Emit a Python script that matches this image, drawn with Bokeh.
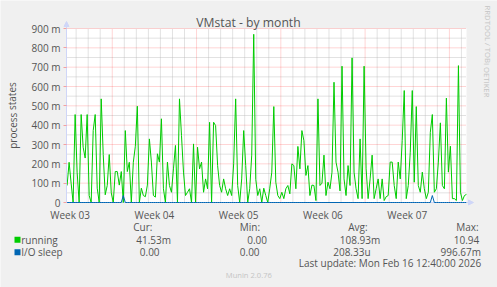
from bokeh.plotting import figure
from bokeh.models import FixedTicker, Label, Arrow, NormalHead, BoxAnnotation, Range1d, ColumnDataSource
from bokeh.embed import file_html
from bokeh.resources import INLINE

# ---------------- data ----------------
title = "VMstat - by month"
y_label = "process states"
watermark = "RRDTOOL / TOBI OETIKER"
week_labels = ["Week 03", "Week 04", "Week 05", "Week 06", "Week 07"]
week_label_hours = [84, 252, 420, 588, 756]          # mid-week (hours since Week 03 start)
week_bound_hours = [168, 336, 504, 672, 840]
day_hours = [96, 120, 144, 192, 216, 240, 264, 288, 312, 360, 384, 408, 432, 456, 480,
             528, 552, 576, 600, 624, 648, 696, 720, 744, 768, 792, 816, 864]
y_ticks = [0, 100, 200, 300, 400, 500, 600, 700, 800, 900]
y_tick_labels = ["0", "100 m", "200 m", "300 m", "400 m", "500 m", "600 m", "700 m", "800 m", "900 m"]
y_minor = [50, 150, 250, 350, 450, 550, 650, 750, 850]
t_lo, t_hi = 76.8, 874.1       # time span of the graph (hours)
v_lo, v_hi = 0, 900

t_start_hour = 78.0   # first 4-hour sample
t_step_hours = 4.0

# running (milli-processes), 4-hour samples
running = [
    88, 208, 100, 0, 455, 157, 0, 455, 286, 230, 455, 36, 0, 372, 455, 74, 0, 536, 248, 40,
    88, 248, 50, 0, 160, 160, 90, 160, 0, 372, 160, 208, 0, 208, 291, 498, 0, 74, 36, 30,
    90, 329, 209, 36, 28, 252, 209, 433, 71, 0, 209, 88, 53, 174, 295, 0, 536, 347, 157, 36,
    53, 71, 0, 303, 0, 286, 174, 209, 53, 122, 71, 415, 0, 415, 398, 191, 88, 53, 122, 71, 36,
    71, 36, 200, 536, 88, 0, 122, 372, 191, 0, 71, 245, 870, 120, 36, 71, 0, 74, 36, 0,
    74, 157, 496, 105, 36, 20, 53, 20, 71, 88, 45, 200, 191, 71, 290, 174, 372, 320, 140, 191, 36, 90,
    88, 10, 536, 88, 100, 245, 36, 105, 71, 157, 622, 209, 157, 60, 705, 122, 36, 191, 88, 748,
    157, 71, 20, 329, 20, 705, 174, 20, 122, 245, 20, 71, 122, 20, 122, 10, 30, 36, 209, 209, 88,
    20, 209, 122, 321, 579, 20, 88, 260, 579, 105, 496, 88, 53, 157, 71, 20, 53, 363, 455, 53,
    71, 209, 412, 88, 71, 540, 157, 291, 20, 20, 10, 708, 53, 10, 36, 42,
]
io_sleep = [0] * 28 + [36] + [0] * 153 + [36] + [0] * 17

series_names = ["running", "I/O sleep"]
series_colors = ["#00CC00", "#0066B3"]
stat_headers = ["Cur:", "Min:", "Avg:", "Max:"]
running_stats = ["41.53m", "0.00", "108.93m", "10.94"]
io_sleep_stats = ["0.00", "0.00", "208.33u", "996.67m"]
last_update = "Last update: Mon Feb 16 12:40:00 2026"
footer = "Munin 2.0.76"

# ---------------- layout (pixels) ----------------
W, H = 497, 287
PL, PR, PT, PB = 66, 466, 28, 202      # data area in canvas pixels
TEXT = "#555555"
FONT = "Open Sans"
FS = "10px"
AXIS_C = "#CFD6F8"

sx = (t_hi - t_lo) / (PR - PL)
sy = (v_hi - v_lo) / (PB - PT)
x_range = Range1d(t_lo - PL * sx, t_hi + (W - PR) * sx)
y_range = Range1d(v_lo - (H - PB) * sy, v_hi + PT * sy)

hours = [t_start_hour + i * t_step_hours for i in range(len(running))]
src = ColumnDataSource(dict(t=hours, running=running, io=io_sleep))

p = figure(width=W, height=H, output_backend="svg", toolbar_location=None,
           x_range=x_range, y_range=y_range, min_border=0)
p.background_fill_color = "#F0F0F0"
p.border_fill_color = "#F0F0F0"
p.outline_line_color = None
p.xgrid.visible = False
p.ygrid.visible = False

# canvas (white data area)
p.quad(left=[t_lo], right=[t_hi], bottom=[v_lo], top=[v_hi], fill_color="white",
       line_color=None, level="image")

# grid lines
grid_specs = [(day_hours, "#B8B8B8", 0.8, True), (y_minor, "#B8B8B8", 0.8, False),
              (week_bound_hours, "#FF0000", 0.33, True), (y_ticks[1:], "#FF0000", 0.33, False)]
for ticks, col, alpha, vertical in grid_specs:
    n = len(ticks)
    if vertical:
        p.segment(x0=ticks, y0=[v_lo] * n, x1=ticks, y1=[v_hi] * n, line_color=col,
                  line_alpha=alpha, line_dash="1 1", line_width=1, level="underlay")
    else:
        p.segment(x0=[t_lo] * n, y0=ticks, x1=[t_hi] * n, y1=ticks, line_color=col,
                  line_alpha=alpha, line_dash="1 1", line_width=1, level="underlay")

# axes (drawn at the data-area edges)
p.xaxis.fixed_location = v_lo
p.yaxis.fixed_location = t_lo
p.xaxis.bounds = (t_lo, t_hi)
p.yaxis.bounds = (v_lo, v_hi)
p.xaxis.ticker = FixedTicker(ticks=week_label_hours)
p.xaxis.major_label_overrides = dict(zip(week_label_hours, week_labels))
p.yaxis.ticker = FixedTicker(ticks=y_ticks)
p.yaxis.major_label_overrides = dict(zip(y_ticks, y_tick_labels))
for ax in (p.xaxis[0], p.yaxis[0]):
    ax.axis_line_color = AXIS_C
    ax.minor_tick_line_color = None
    ax.major_label_text_font = FONT
    ax.major_label_text_font_size = FS
    ax.major_label_text_color = TEXT
p.xaxis.level = "underlay"
p.xaxis.major_tick_line_color = None
p.xaxis.major_tick_out = 0
p.xaxis.major_tick_in = 0
p.xaxis.major_label_standoff = 5
p.yaxis.major_tick_line_color = "#FF0000"
p.yaxis.major_tick_line_alpha = 0.33
p.yaxis.major_tick_out = 3
p.yaxis.major_tick_in = 0
p.yaxis.major_label_standoff = 3

# series
p.line("t", "running", source=src, line_color=series_colors[0], line_width=1)
p.line("t", "io", source=src, line_color=series_colors[1], line_width=1)

# axis arrows
head = dict(size=5, fill_color=AXIS_C, line_color=AXIS_C)
p.add_layout(Arrow(end=NormalHead(**head), x_start=PL, y_start=H - PT, x_end=PL, y_end=H - 21,
                   start_units="screen", end_units="screen", line_color=AXIS_C))
p.add_layout(Arrow(end=NormalHead(**head), x_start=PR, y_start=H - PB, x_end=473, y_end=H - PB,
                   start_units="screen", end_units="screen", line_color=AXIS_C))


def text(txt, X, Y, size=FS, align="left", color=TEXT, angle=0.0):
    p.add_layout(Label(x=X, y=H - Y, x_units="screen", y_units="screen", text=txt,
                       text_font=FONT, text_font_size=size, text_color=color,
                       text_align=align, text_baseline="middle", angle=angle))


text(title, 248, 21.5, size="12.2px", align="center")
text(y_label, 12, 115, align="center", angle=1.5708)
text(watermark, 487, 51, size="7.7px", align="center", color="#C4C4C4", angle=-1.5708)

# legend / stats
hdr_x = [132.7, 239.3, 347.7, 455.7]
run_x = [135.7, 246.7, 339.3, 453.3]
io_x = [139.3, 239.3, 332.7, 440.0]
for h, x in zip(stat_headers, hdr_x):
    text(h, x, 226.7)
for v, x in zip(running_stats, run_x):
    text(v, x, 239.3)
for v, x in zip(io_sleep_stats, io_x):
    text(v, x, 251.7)
for name, col, y in zip(series_names, series_colors, [239.3, 251.7]):
    p.add_layout(BoxAnnotation(left=14, right=20, top=H - (y - 3), bottom=H - (y + 3),
                               left_units="screen", right_units="screen", top_units="screen",
                               bottom_units="screen", fill_color=col, fill_alpha=1.0, line_color=None))
    text(name, 20.7, y)
text(last_update, 298.3, 262.7)
text(footer, 225.3, 274.7, size="7.6px", color="#C4C4C4")

open("out.html", "w").write(file_html(p, INLINE))
